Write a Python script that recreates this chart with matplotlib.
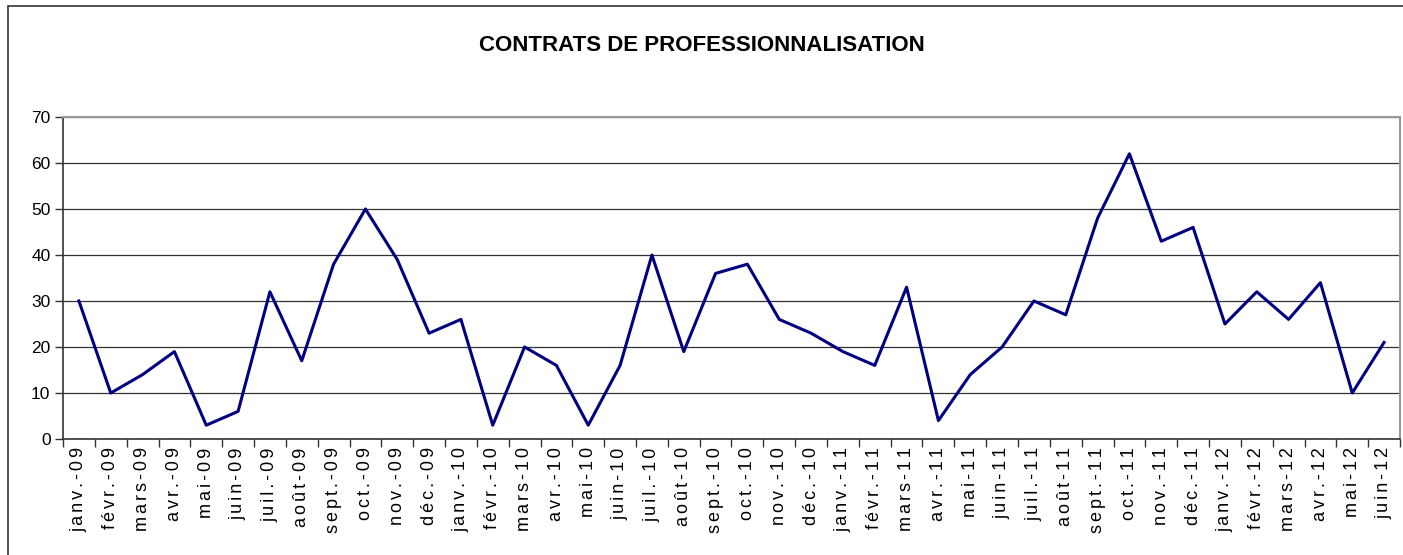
import matplotlib
matplotlib.use("Agg")
import matplotlib.pyplot as plt
from matplotlib.patches import Rectangle

plt.rcParams["font.family"] = ["Liberation Sans", "DejaVu Sans"]

months = ["janv.", "févr.", "mars", "avr.", "mai", "juin",
          "juil.", "août", "sept.", "oct.", "nov.", "déc."]
years = ["09", "10", "11", "12"]
labels = [f"{m}-{y}" for y in years for m in months][:42]

values = [
    30, 10, 14, 19, 3, 6, 32, 17, 38, 50, 39, 23,
    26, 3, 20, 16, 3, 16, 40, 19, 36, 38, 26, 23,
    19, 16, 33, 4, 14, 20, 30, 27, 48, 62, 43, 46,
    25, 32, 26, 34, 10, 21,
]

W, H = 1403, 555
fig = plt.figure(figsize=(W / 100, H / 100), dpi=100)
ax = fig.add_axes([63 / W, 1 - 439 / H, (1400 - 63) / W, (439 - 117) / H])

# outer chart frame
fig.patches.append(Rectangle((8 / W, -0.05), 1.1, 1 - 6 / H + 0.05,
                             transform=fig.transFigure, fill=False,
                             edgecolor="#333333", linewidth=1.2))

x = list(range(len(values)))
ax.plot(x, values, color="#000080", linewidth=2.2, zorder=3)

# Excel-style letter spacing on the rotated month labels
spaced = ["\u2006".join(lab) for lab in labels]

ax.set_xlim(-0.5, len(values) - 0.5)
ax.set_ylim(0, 70)
ax.set_yticks(range(0, 71, 10))
ax.set_xticks(x)
ax.set_xticklabels(spaced, rotation=90, fontsize=13)
ax.set_xticks([i - 0.5 for i in range(len(values) + 1)], minor=True)
ax.tick_params(axis="x", which="major", length=0, pad=6)
ax.tick_params(axis="x", which="minor", length=6, width=1, color="#333333")
ax.tick_params(axis="y", length=6, width=1, color="#333333", labelsize=12.5, pad=3)

ax.yaxis.grid(True, color="#333333", linewidth=0.9)
ax.set_axisbelow(True)
for side in ["top", "right"]:
    ax.spines[side].set_color("#999999")
    ax.spines[side].set_linewidth(1.5)
for side in ["left", "bottom"]:
    ax.spines[side].set_color("#333333")
    ax.spines[side].set_linewidth(1.2)

fig.text(0.5, 1 - 45 / H, "CONTRATS DE PROFESSIONNALISATION",
         ha="center", va="center", fontsize=16, fontweight="bold")

fig.savefig("out.png", dpi=100)
